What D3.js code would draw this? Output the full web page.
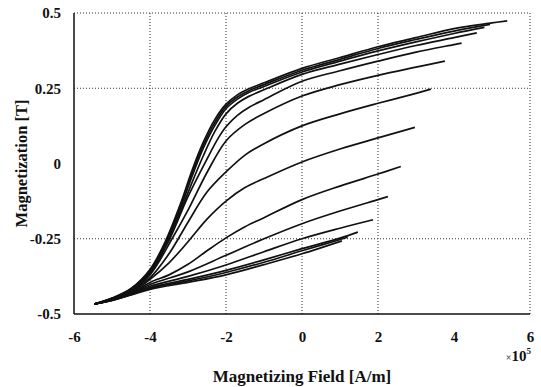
<!DOCTYPE html>
<html>
<head>
<meta charset="utf-8">
<script src="https://cdn.jsdelivr.net/npm/d3@7"></script>
<style>
  body { margin: 0; background: #fff; }
  text { font-family: "Liberation Serif", "DejaVu Serif", serif; font-weight: bold; fill: #111; }
</style>
</head>
<body>
<svg width="541" height="387"></svg>
<script>
const width = 541, height = 387;
const margin = { top: 13, right: 11, bottom: 70, left: 74 };

// tick values (field in 1e5 A/m, magnetization in T)
const xTicks = [-6, -4, -2, 0, 2, 4, 6];
const yTicks = [-0.5, -0.25, 0, 0.25, 0.5];
const xGrid = [-4, -2, 0, 2];
const yGrid = [-0.25, 0.25];

// ascending branches, [H, M] (largest amplitude first)
const curve1 = [[-5.47,-0.467],[-5,-0.447],[-4.5,-0.415],[-4,-0.352],[-3.6,-0.26],[-3.2,-0.135],[-2.9,-0.025],[-2.6,0.07],[-2.3,0.145],[-2,0.197],[-1.7,0.228],[-1.4,0.248],[-1,0.268],[0,0.316],[1,0.352],[2,0.388],[3,0.418],[4,0.448],[5,0.467],[5.4,0.474]];
const curve2 = [[-5.47,-0.467],[-5,-0.448],[-4.5,-0.417],[-4,-0.355],[-3.6,-0.265],[-3.2,-0.14],[-2.9,-0.035],[-2.6,0.06],[-2.3,0.135],[-2,0.19],[-1.7,0.221],[-1.4,0.242],[-1,0.262],[0,0.31],[1,0.346],[2,0.382],[3,0.412],[4,0.44],[4.95,0.462]];
const curve3 = [[-5.47,-0.467],[-5,-0.449],[-4.5,-0.419],[-4,-0.358],[-3.6,-0.27],[-3.2,-0.15],[-2.9,-0.045],[-2.6,0.05],[-2.3,0.125],[-2,0.182],[-1.7,0.214],[-1.4,0.236],[-1,0.256],[0,0.304],[1,0.34],[2,0.374],[3,0.404],[4,0.432],[4.8,0.452]];
const curve4 = [[-5.47,-0.467],[-5,-0.449],[-4.5,-0.42],[-4,-0.36],[-3.6,-0.275],[-3.2,-0.16],[-2.9,-0.065],[-2.6,0.025],[-2.3,0.105],[-2,0.165],[-1.7,0.2],[-1.4,0.223],[-1,0.245],[0,0.296],[1,0.33],[2,0.362],[3,0.392],[4,0.418],[4.6,0.434]];
const curve5 = [[-5.47,-0.467],[-5,-0.45],[-4.5,-0.422],[-4,-0.365],[-3.5,-0.255],[-3,-0.11],[-2.5,0.015],[-2.2,0.085],[-2,0.122],[-1.7,0.16],[-1.4,0.186],[-1,0.212],[0,0.273],[1,0.308],[2,0.34],[3,0.37],[4,0.395],[4.2,0.4]];
const curve6 = [[-5.47,-0.467],[-5,-0.45],[-4.5,-0.424],[-4,-0.37],[-3.42,-0.25],[-3,-0.155],[-2.5,-0.03],[-2,0.075],[-1.5,0.13],[-1,0.166],[0,0.224],[1,0.262],[2,0.293],[3,0.32],[3.76,0.34]];
const curve7 = [[-5.47,-0.467],[-5,-0.451],[-4.5,-0.427],[-4,-0.38],[-3.5,-0.3],[-3,-0.195],[-2.5,-0.095],[-2,-0.028],[-1.5,0.028],[-1,0.066],[0,0.125],[1,0.165],[2,0.2],[3,0.233],[3.39,0.247]];
const curve8 = [[-5.47,-0.467],[-5,-0.452],[-4.5,-0.43],[-4,-0.385],[-3.5,-0.33],[-3,-0.26],[-2.5,-0.185],[-2,-0.125],[-1.5,-0.08],[-1,-0.05],[0,0.005],[1,0.048],[2,0.085],[2.97,0.12]];
const curve9 = [[-5.47,-0.467],[-5,-0.453],[-4.5,-0.432],[-4,-0.395],[-3.5,-0.37],[-3,-0.335],[-2.5,-0.29],[-2,-0.247],[-1.5,-0.21],[-1,-0.18],[0,-0.12],[1,-0.075],[2,-0.035],[2.6,-0.01]];
const curve10 = [[-5.47,-0.467],[-5,-0.453],[-4.5,-0.433],[-4,-0.402],[-3,-0.36],[-2,-0.305],[-1,-0.25],[0,-0.2],[1,-0.158],[2,-0.12],[2.26,-0.11]];
const curve11 = [[-5.47,-0.467],[-5,-0.454],[-4.5,-0.434],[-4,-0.408],[-3,-0.375],[-2,-0.337],[-1,-0.293],[0,-0.25],[1,-0.215],[1.87,-0.187]];
const curve12 = [[-5.47,-0.467],[-5,-0.454],[-4.5,-0.435],[-4,-0.412],[-3,-0.385],[-2,-0.355],[-1,-0.32],[0,-0.283],[1,-0.248],[1.47,-0.228]];
const curve13 = [[-5.47,-0.467],[-5,-0.455],[-4.5,-0.436],[-4,-0.415],[-3,-0.39],[-2,-0.362],[-1,-0.328],[0,-0.29],[1.2,-0.245]];
const curve14 = [[-5.47,-0.467],[-5,-0.455],[-4.5,-0.437],[-4,-0.418],[-3,-0.395],[-2,-0.37],[-1,-0.336],[0,-0.3],[1.05,-0.257]];

const curves = [curve1, curve2, curve3, curve4, curve5, curve6, curve7,
                curve8, curve9, curve10, curve11, curve12, curve13, curve14];

const svg = d3.select("svg");

const x = d3.scaleLinear().domain([-6, 6]).range([margin.left, width - margin.right]);
const y = d3.scaleLinear().domain([-0.5, 0.5]).range([height - margin.bottom - 3, margin.top]);

// dotted grid
svg.selectAll(".vgrid")
    .data(xGrid)
    .enter().append("line")
    .attr("x1", d => x(d)).attr("x2", d => x(d))
    .attr("y1", y(0.5)).attr("y2", y(-0.5))
    .style("stroke", "#333")
    .style("stroke-width", 1)
    .style("stroke-dasharray", "1,2");

svg.selectAll(".hgrid")
    .data(yGrid)
    .enter().append("line")
    .attr("x1", x(-6)).attr("x2", x(6))
    .attr("y1", d => y(d)).attr("y2", d => y(d))
    .style("stroke", "#333")
    .style("stroke-width", 1)
    .style("stroke-dasharray", "1,2");

// box: top and right dotted, left and bottom solid
svg.append("line")
    .attr("x1", x(-6)).attr("x2", x(6)).attr("y1", y(0.5)).attr("y2", y(0.5))
    .style("stroke", "#333").style("stroke-dasharray", "1,2");
svg.append("line")
    .attr("x1", x(6)).attr("x2", x(6)).attr("y1", y(0.5)).attr("y2", y(-0.5))
    .style("stroke", "#333").style("stroke-dasharray", "1,2");
svg.append("line")
    .attr("x1", x(-6)).attr("x2", x(-6)).attr("y1", y(0.5)).attr("y2", y(-0.5))
    .style("stroke", "#111").style("stroke-width", 1.5);
svg.append("line")
    .attr("x1", x(-6)).attr("x2", x(6)).attr("y1", y(-0.5)).attr("y2", y(-0.5))
    .style("stroke", "#111").style("stroke-width", 1.5);

// curves
const line = d3.line()
    .x(d => x(d[0]))
    .y(d => y(d[1]))
    .curve(d3.curveCatmullRom.alpha(0.5));

svg.selectAll(".curve")
    .data(curves)
    .enter().append("path")
    .attr("class", "curve")
    .attr("d", line)
    .style("fill", "none")
    .style("stroke", "#111")
    .style("stroke-width", 1.7);

// axes (labels only)
const xAxis = svg.append("g")
    .attr("transform", `translate(0,${y(-0.5) + 14})`)
    .call(d3.axisBottom(x).tickValues(xTicks).tickSize(0).tickFormat(d => String(d)));
xAxis.select(".domain").remove();
xAxis.selectAll("text").attr("font-size", "15px").attr("font-family", null);

const yAxis = svg.append("g")
    .attr("transform", `translate(${x(-6) - 10},0)`)
    .call(d3.axisLeft(y).tickValues(yTicks).tickSize(0).tickFormat(d => String(d)));
yAxis.select(".domain").remove();
yAxis.selectAll("text").attr("font-size", "15px").attr("font-family", null);

// exponent
const expo = svg.append("text")
    .attr("x", width - 10)
    .attr("y", 361)
    .attr("text-anchor", "end")
    .attr("font-size", "15px");
expo.append("tspan").attr("font-size", "10px").attr("font-weight", "normal").text("\u00d7");
expo.append("tspan").text("10");
expo.append("tspan").attr("font-size", "9px").attr("dy", -7).text("5");

// axis titles
svg.append("text")
    .attr("x", x(0))
    .attr("y", 382)
    .attr("text-anchor", "middle")
    .attr("font-size", "17px")
    .text("Magnetizing Field [A/m]");

svg.append("text")
    .attr("transform", `translate(27,${y(0)}) rotate(-90)`)
    .attr("text-anchor", "middle")
    .attr("font-size", "16.5px")
    .text("Magnetization [T]");
</script>
</body>
</html>
